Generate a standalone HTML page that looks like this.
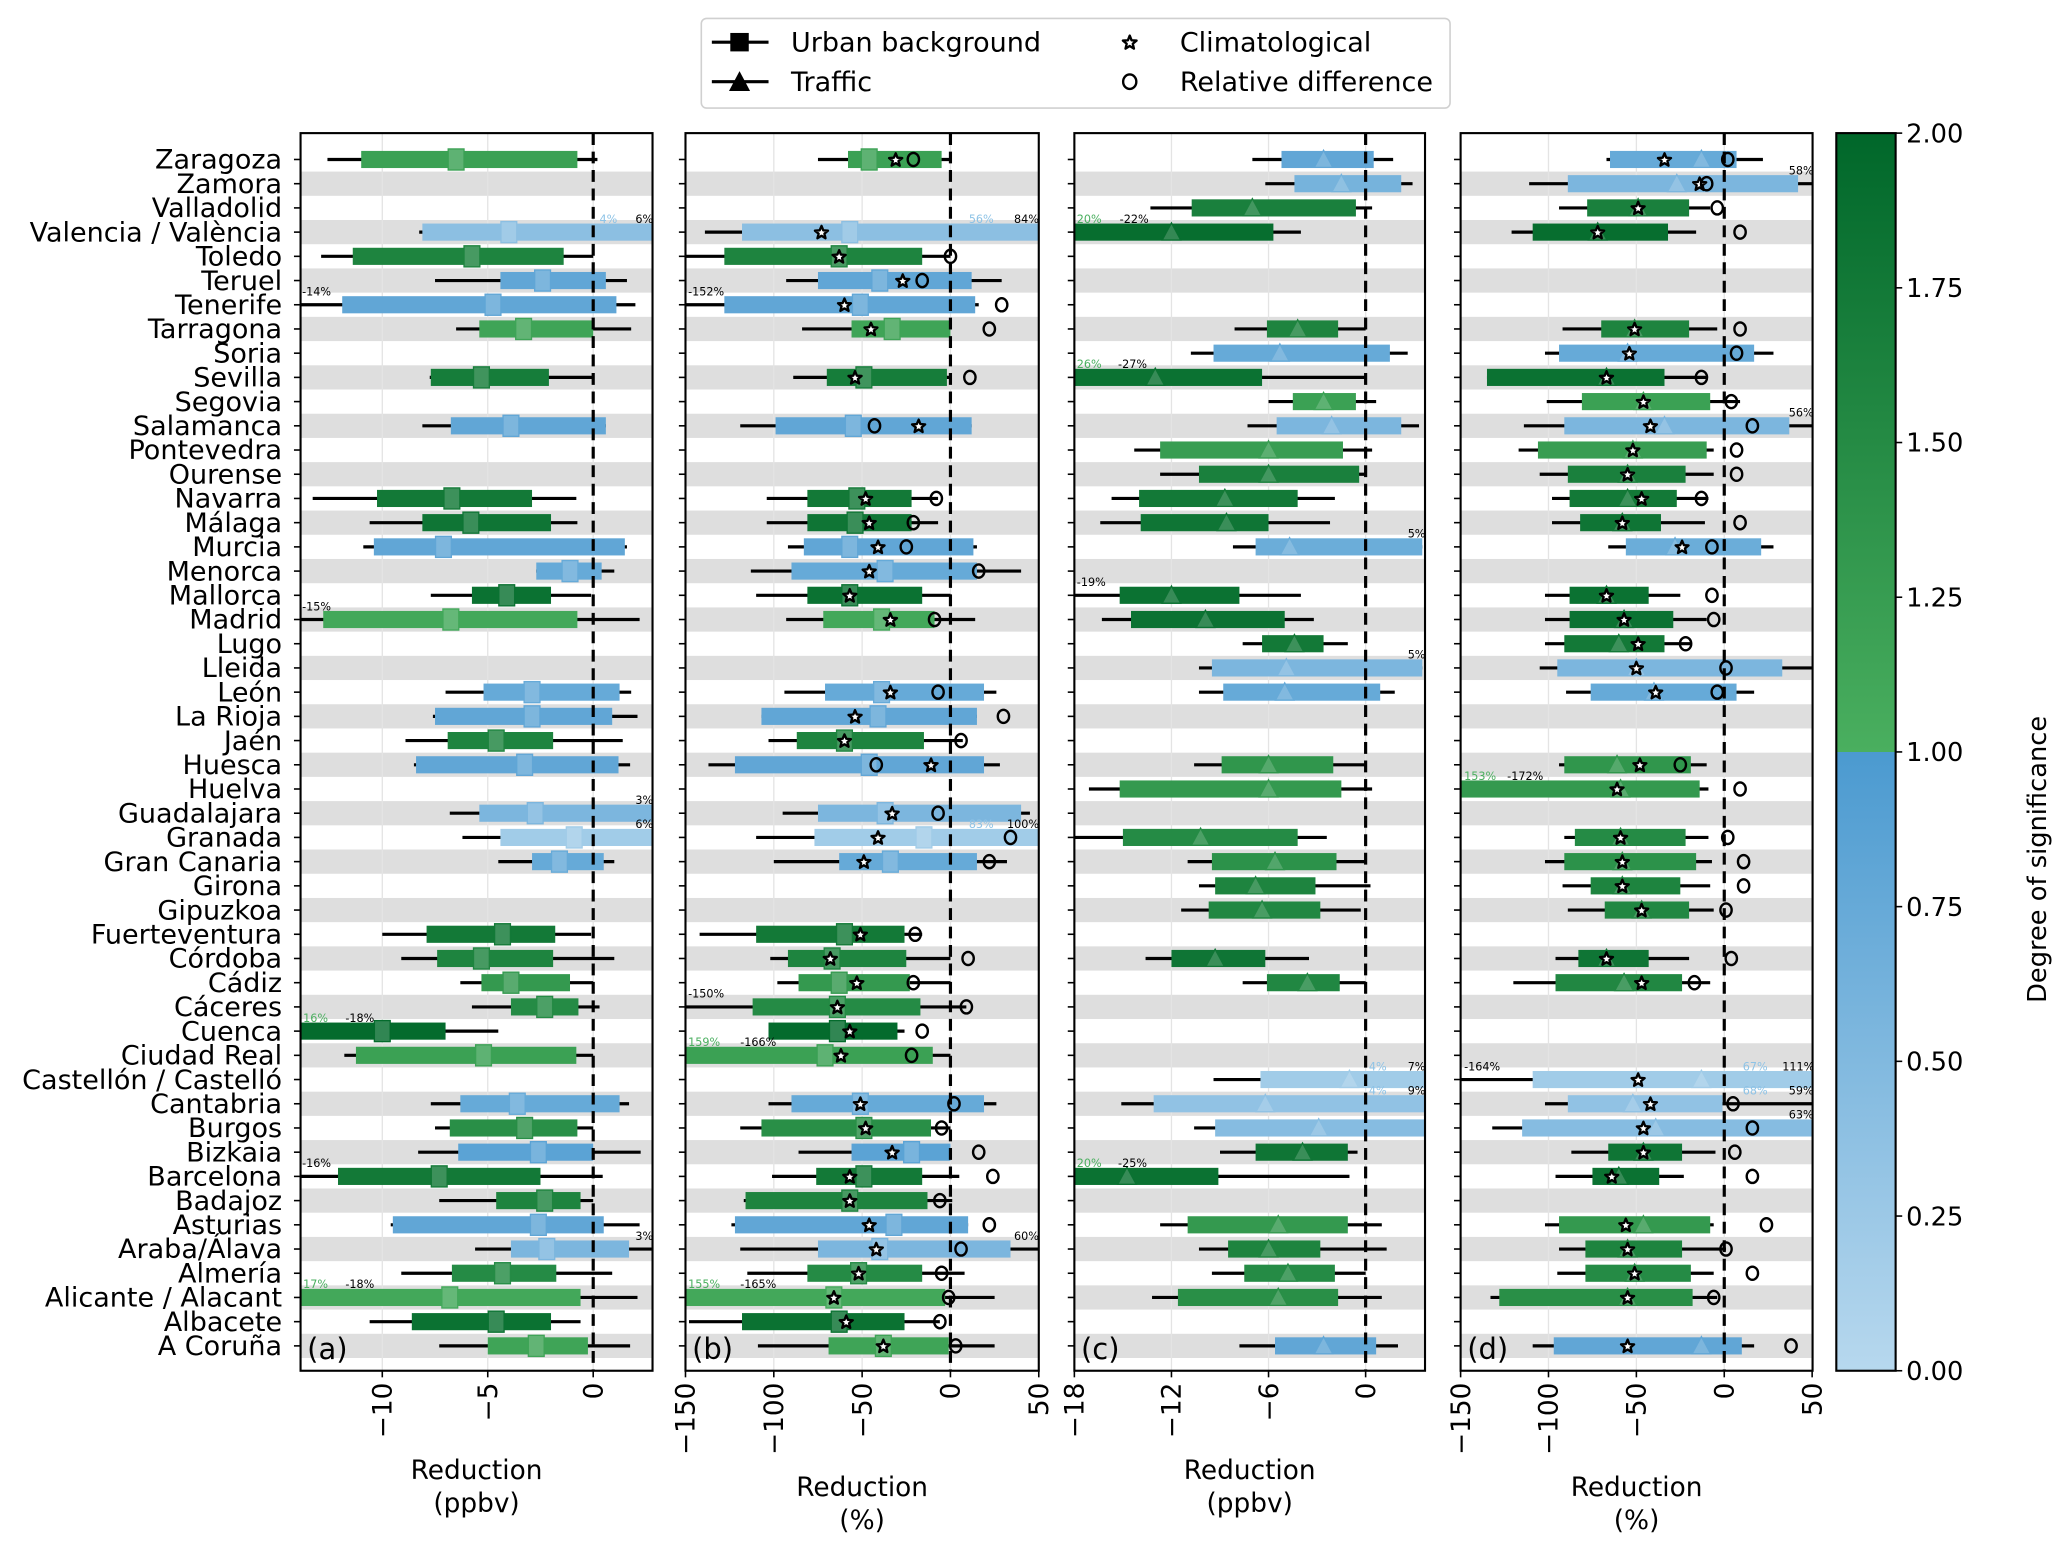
<!DOCTYPE html>
<html><head><meta charset="utf-8"><style>
html,body{margin:0;padding:0;background:#fff}
svg{display:block}
text{font-family:"DejaVu Sans","Liberation Sans",sans-serif}
</style></head><body>
<svg id="chart" width="2067" height="1550" viewBox="0 0 1568 1176" preserveAspectRatio="none" xmlns="http://www.w3.org/2000/svg"></svg>
<script>
const cities=["Zaragoza","Zamora","Valladolid","Valencia / València","Toledo","Teruel","Tenerife","Tarragona","Soria","Sevilla","Segovia","Salamanca","Pontevedra","Ourense","Navarra","Málaga","Murcia","Menorca","Mallorca","Madrid","Lugo","Lleida","León","La Rioja","Jaén","Huesca","Huelva","Guadalajara","Granada","Gran Canaria","Girona","Gipuzkoa","Fuerteventura","Córdoba","Cádiz","Cáceres","Cuenca","Ciudad Real","Castellón / Castelló","Cantabria","Burgos","Bizkaia","Barcelona","Badajoz","Asturias","Araba/Álava","Almería","Alicante / Alacant","Albacete","A Coruña"];
// [row, whiskerLo, q1, median, q3, whiskerHi, significance, climatological, relDiff]
const dataA=[[0,-12.6,-11,-6.5,-0.75,0.2,1.2],[3,-8.25,-8.1,-4,5,5,0.4],[4,-12.9,-11.4,-5.75,-1.4,0,1.6],[5,-7.5,-4.4,-2.4,0.6,1.6,0.8],[6,-20,-11.9,-4.75,1.1,2,0.8],[7,-6.5,-5.4,-3.3,0,1.8,1.15],[9,-7.75,-7.7,-5.3,-2.1,0,1.7],[11,-8.1,-6.75,-3.9,0.6,0.6,0.8],[14,-13.3,-10.25,-6.7,-2.9,-0.8,1.75],[15,-10.6,-8.1,-5.8,-2,-0.75,1.8],[16,-10.9,-10.4,-7.1,1.5,1.6,0.8],[17,-2.7,-2.7,-1.1,0.4,1.0,0.75],[18,-7.7,-5.75,-4.1,-2,-0.1,1.85],[19,-20,-12.8,-6.75,-0.75,2.2,1.1],[22,-7,-5.2,-2.9,1.25,1.8,0.75],[23,-7.6,-7.5,-2.9,0.9,2.1,0.8],[24,-8.9,-6.9,-4.6,-1.9,1.4,1.6],[25,-8.5,-8.4,-3.25,1.2,1.75,0.8],[27,-6.8,-5.4,-2.75,5,5,0.55],[28,-6.2,-4.4,-0.9,5,5,0.2],[29,-4.5,-2.9,-1.6,0.5,1,0.75],[32,-10,-7.9,-4.3,-1.8,-0.1,1.75],[33,-9.1,-7.4,-5.3,-1.9,1,1.6],[34,-6.3,-5.3,-3.9,-1.1,0,1.3],[35,-5.75,-3.9,-2.3,-0.7,0.3,1.5],[36,-20,-20,-10,-7,-4.5,1.95],[37,-11.8,-11.25,-5.2,-0.8,0,1.2],[39,-7.7,-6.3,-3.6,1.25,1.7,0.75],[40,-7.5,-6.8,-3.25,-0.75,0,1.45],[41,-8.3,-6.4,-2.6,0,2.25,0.85],[42,-20,-12.1,-7.3,-2.5,0.45,1.75],[43,-7.3,-4.6,-2.3,-0.6,0,1.6],[44,-9.6,-9.5,-2.6,0.5,2.2,0.8],[45,-5.6,-3.9,-2.2,1.7,5,0.55],[46,-9.1,-6.7,-4.3,-1.75,0.9,1.5],[47,-20,-20,-6.8,-0.6,2.1,1.1],[48,-10.6,-8.6,-4.6,-2,-0.6,1.85],[49,-7.3,-5,-2.7,-0.25,1.75,1.15]];
const dataB=[[0,-75,-58,-46,-5,0,1.2,-31,-21],[3,-139,-118,-57,90,90,0.4,-73,null],[4,-150,-128,-63,-16,0,1.6,-63,0],[5,-93,-75,-40,12,29,0.8,-27,-16],[6,-200,-128,-51,14,16,0.8,-60,29],[7,-84,-56,-33,0,0,1.15,-45,22],[9,-89,-70,-49,-2,0,1.7,-54,11],[11,-119,-99,-55,12,12,0.8,-18,-43],[14,-104,-81,-53,-22,-7,1.75,-48,-8],[15,-104,-81,-54,-22,-7,1.8,-46,-21],[16,-92,-83,-57,13,15,0.8,-41,-25],[17,-113,-90,-37,15,40,0.75,-46,16],[18,-110,-81,-57,-16,0,1.85,-57,null],[19,-93,-72,-39,-9,14,1.1,-34,-9],[22,-94,-71,-39,19,26,0.75,-34,-7],[23,-107,-107,-41,15,15,0.8,-54,30],[24,-103,-87,-60,-15,7,1.6,-60,6],[25,-137,-122,-46,19,28,0.8,-11,-42],[27,-95,-75,-37,40,45,0.55,-33,-7],[28,-110,-77,-15,90,90,0.2,-41,34],[29,-100,-63,-34,15,32,0.75,-49,22],[32,-142,-110,-60,-26,-16,1.75,-51,-20],[33,-102,-92,-67,-25,0,1.6,-68,10],[34,-98,-86,-63,-23,0,1.3,-53,-21],[35,-150,-112,-64,-17,9,1.5,-64,9],[36,-103,-103,-64,-30,-26,1.95,-57,-16],[37,-200,-200,-71,-10,0,1.2,-62,-22],[39,-103,-90,-51,19,26,0.75,-51,2],[40,-119,-107,-49,-11,0,1.45,-48,-5],[41,-86,-56,-22,0,0,0.85,-33,16],[42,-101,-76,-49,-16,5,1.75,-57,24],[43,-117,-116,-57,-13,1,1.6,-57,-6],[44,-124,-122,-32,10,10,0.8,-46,22],[45,-119,-75,-40,34,90,0.55,-42,6],[46,-115,-81,-52,-16,8,1.5,-52,-5],[47,-200,-200,-66,-3,25,1.1,-66,-1],[48,-148,-118,-63,-26,-6,1.85,-59,-6],[49,-109,-69,-38,-1,25,1.15,-38,3]];
const dataC=[[0,-7,-5.2,-2.6,0.5,1.7,0.8],[1,-6.2,-4.4,-1.5,2.2,2.9,0.6],[2,-13.3,-10.75,-7,-0.6,0.4,1.65],[3,-25,-25,-12,-5.7,-4,1.9],[7,-8.1,-6.1,-4.2,-1.7,0,1.6],[8,-10.8,-9.4,-5.3,1.5,2.6,0.75],[9,-25,-25,-13,-6.4,0,1.85],[10,-6,-4.5,-2.6,-0.6,0.65,1.2],[11,-7.3,-5.5,-2.1,2.2,3.3,0.55],[12,-14.3,-12.7,-6,-1.4,0.4,1.25],[13,-12.7,-10.3,-6,-0.4,0,1.65],[14,-15.7,-14,-8.7,-4.2,-1.9,1.75],[15,-16.4,-13.9,-8.6,-6,-2.2,1.8],[16,-8.2,-6.8,-4.7,3.5,3.5,0.7],[18,-25,-15.2,-12,-7.8,-4,1.85],[19,-16.3,-14.5,-9.9,-5,-3.2,1.85],[20,-7.6,-6.4,-4.4,-2.6,-1.1,1.75],[21,-10.3,-9.5,-4.9,3.5,3.5,0.55],[22,-10.3,-8.8,-5,0.9,1.8,0.75],[25,-10.6,-8.9,-6,-2,0,1.35],[26,-17.1,-15.2,-6,-1.5,0.4,1.3],[28,-25,-15,-10.2,-4.2,-2.4,1.5],[29,-11,-9.5,-5.6,-1.8,0,1.4],[30,-10.3,-9.3,-6.8,-3.1,0.3,1.6],[31,-11.4,-9.7,-6.4,-2.8,-0.3,1.55],[33,-13.6,-12,-9.3,-6.2,-3.5,1.8],[34,-7.6,-6.1,-3.6,-1.6,0,1.55],[38,-9.4,-6.5,-1,9,9,0.2],[39,-15.1,-13.1,-6.2,9,9,0.35],[40,-10.6,-9.3,-2.9,9,9,0.45],[41,-9,-6.8,-3.9,-1.1,-0.5,1.8],[42,-25,-25,-14.75,-9.1,-1,1.85],[44,-12.7,-11,-5.4,-1.1,1,1.3],[45,-10.3,-8.5,-6,-2.8,1.3,1.6],[46,-9.5,-7.5,-4.8,-1.9,0,1.5],[47,-13.2,-11.6,-5.4,-1.7,1,1.45],[49,-7.8,-5.6,-2.6,0.65,2,0.8]];
const dataD=[[0,-67,-65,-13,7,22,0.75,-34,2],[1,-111,-89,-27,42,90,0.55,-14,-10],[2,-94,-78,-49,-20,-8,1.65,-49,-4],[3,-121,-109,-72,-32,-16,1.9,-72,9],[7,-92,-70,-51,-20,-4,1.6,-51,9],[8,-102,-94,-55,17,28,0.75,-54,7],[9,-135,-135,-67,-34,-10,1.85,-67,-13],[10,-101,-81,-46,-8,9,1.2,-46,4],[11,-114,-91,-34,37,90,0.55,-42,16],[12,-117,-106,-52,-10,-6,1.25,-52,7],[13,-105,-89,-55,-22,-6,1.65,-55,7],[14,-98,-88,-55,-27,-9,1.75,-47,-13],[15,-98,-82,-58,-36,-11,1.8,-58,9],[16,-66,-56,-28,21,28,0.7,-24,-7],[18,-102,-88,-67,-43,-25,1.85,-67,-7],[19,-102,-88,-57,-29,-10,1.85,-57,-6],[20,-102,-91,-60,-34,-19,1.75,-49,-22],[21,-105,-95,-50,33,90,0.55,-50,1],[22,-90,-76,-40,7,17,0.75,-39,-4],[25,-94,-91,-61,-19,-10,1.35,-48,-25],[26,-200,-200,-59,-14,-9,1.3,-61,9],[28,-91,-85,-59,-22,-9,1.5,-59,2],[29,-102,-91,-58,-16,-7,1.4,-58,11],[30,-92,-76,-58,-25,-8,1.6,-58,11],[31,-89,-68,-47,-20,-6,1.55,-47,1],[33,-96,-83,-67,-43,-20,1.8,-67,4],[34,-120,-96,-57,-24,-8,1.55,-47,-17],[38,-200,-109,-13,90,90,0.2,-49,null],[39,-102,-89,-52,-1,90,0.35,-42,5],[40,-132,-115,-39,90,90,0.45,-46,16],[41,-87,-66,-46,-24,-5,1.8,-46,6],[42,-96,-75,-60,-37,-23,1.85,-64,16],[44,-102,-94,-46,-8,-6,1.3,-56,24],[45,-94,-79,-55,-24,1,1.6,-55,1],[46,-95,-79,-51,-19,-6,1.5,-51,16],[47,-133,-128,-55,-18,-4,1.45,-55,-6],[49,-109,-97,-13,10,17,0.8,-55,38]];
// percentage annotations [row, value, text, faint]
const labelsA=[[3,0.3,"4%",1],[3,2.0,"6%",0],[6,-13.8,"-14%",0],[19,-13.8,"-15%",0],[27,2.0,"3%",0],[28,2.0,"6%",0],[36,-13.75,"16%",2],[36,-11.75,"-18%",0],[42,-13.8,"-16%",0],[45,2.0,"3%",0],[47,-13.75,"17%",2],[47,-11.75,"-18%",0]];
const labelsB=[[3,10.4,"56%",1],[3,36,"84%",0],[6,-148.5,"-152%",0],[28,10.4,"83%",1],[28,32,"100%",0],[35,-148.5,"-150%",0],[37,-148.5,"159%",2],[37,-119,"-166%",0],[45,36,"60%",0],[47,-148.5,"155%",2],[47,-119,"-165%",0]];
const labelsC=[[3,-17.85,"20%",2],[3,-15.2,"-22%",0],[9,-17.85,"26%",2],[9,-15.3,"-27%",0],[16,2.6,"5%",0],[18,-17.85,"-19%",0],[21,2.6,"5%",0],[38,2.6,"7%",0],[38,0.2,"4%",1],[39,2.6,"9%",0],[39,0.2,"4%",1],[42,-17.85,"20%",2],[42,-15.3,"-25%",0]];
const labelsD=[[1,36.7,"58%",0],[11,36.7,"56%",0],[26,-148,"153%",2],[26,-123.5,"-172%",0],[38,-148,"-164%",0],[38,10.5,"67%",1],[38,33,"111%",0],[39,10.5,"68%",1],[39,36.7,"59%",0],[40,36.7,"63%",0]];
const ticksA=[-10,-5,0], ticksB=[-150,-100,-50,0,50], ticksC=[-18,-12,-6,0], ticksD=[-150,-100,-50,0,50];
const cbTicks=[0,0.25,0.5,0.75,1,1.25,1.5,1.75,2];

const NS="http://www.w3.org/2000/svg";
const svg=document.getElementById('chart');
function mk(tag,attrs,parent,txt){const e=document.createElementNS(NS,tag);for(const k in attrs)e.setAttribute(k,attrs[k]);if(txt!==undefined)e.textContent=txt;(parent||svg).appendChild(e);return e;}
const TOP=101,BOT=1040,ROW0=121,STEP=18.37;
function yRow(i){return ROW0+i*STEP;}
function lerp(a,b,t){return a.map((v,i)=>Math.round(v+(b[i]-v)*t));}
function color(s){let c;if(s>=1){c=lerp([74,175,95],[0,103,42],Math.min(1,s-1));}else{c=lerp([183,216,238],[75,154,208],s);}return 'rgb('+c.join(',')+')';}
function light(s){const m=color(s).match(/\d+/g).map(Number);return 'rgb('+m.map(v=>Math.round(v+(255-v)*0.18)).join(',')+')';}
function starPts(cx,cy,R,r){let p=[];for(let k=0;k<10;k++){const a=-Math.PI/2+k*Math.PI/5;const rr=k%2?r:R;p.push((cx+rr*Math.cos(a)).toFixed(1)+','+(cy+rr*Math.sin(a)).toFixed(1));}return p.join(' ');}
const panels=[
 {id:'a',x0:228,x1:495,min:-13.875,max:2.8125,ticks:ticksA,data:dataA,labels:labelsA,marker:'square',unit:'(ppbv)',pct:false},
 {id:'b',x0:520,x1:788,min:-150,max:50,ticks:ticksB,data:dataB,labels:labelsB,marker:'square',unit:'(%)',pct:true},
 {id:'c',x0:815,x1:1081,min:-18,max:3.67,ticks:ticksC,data:dataC,labels:labelsC,marker:'triangle',unit:'(ppbv)',pct:false},
 {id:'d',x0:1108,x1:1375,min:-150,max:50.25,ticks:ticksD,data:dataD,labels:labelsD,marker:'triangle',unit:'(%)',pct:true}];
const defs=mk('defs',{});
panels.forEach(p=>{
 const cp=mk('clipPath',{id:'clip-'+p.id},defs);
 mk('rect',{x:p.x0,y:TOP,width:p.x1-p.x0,height:BOT-TOP},cp);
 const X=v=>p.x0+(v-p.min)/(p.max-p.min)*(p.x1-p.x0);
 const g=mk('g',{});
 
 
 const inner=mk('g',{'clip-path':'url(#clip-'+p.id+')'},g);
 for(let i=1;i<cities.length;i+=2){const r=mk('rect',{x:p.x0,y:yRow(i)-STEP/2,width:p.x1-p.x0,height:STEP,fill:'#dedede'},inner);
  
  }
 p.ticks.forEach(t=>{const l=mk('line',{x1:X(t),x2:X(t),y1:TOP,y2:BOT,stroke:'#e4e4e4','stroke-width':1},inner);
  
  });
 p.data.forEach(d=>{
  const [r,lo,q1,md,q3,hi,s,st,cd]=d; const y=yRow(r);
  const w=mk('line',{x1:X(lo),x2:X(hi),y1:y,y2:y,stroke:'#000','stroke-width':2.4},inner);
  
  
  const b=mk('rect',{x:X(q1),y:y-6.5,width:Math.max(0,X(q3)-X(q1)),height:13,fill:color(s)},inner);
  
  
  let m;
  if(p.marker==='square'){m=mk('rect',{x:X(md)-6,y:y-8,width:12,height:16,fill:light(s),stroke:color(s),'stroke-width':1},inner);}
  else{const xm=X(md);m=mk('polygon',{points:(xm-7)+','+(y+6)+' '+(xm+7)+','+(y+6)+' '+xm+','+(y-7),fill:light(s),stroke:color(s),'stroke-width':1},inner);}
  
  
  if(p.pct){
   if(st!==null&&st!==undefined){const t=mk('polygon',{points:starPts(X(st),y+0.5,5.2,2.3),fill:'#fff',stroke:'#000','stroke-width':1.8,'stroke-linejoin':'round'},inner);
    
    }
   if(cd!==null&&cd!==undefined){const c=mk('ellipse',{cx:X(cd),cy:y,rx:4.3,ry:5,fill:'none',stroke:'#000','stroke-width':1.8},inner);
    
    }
  }
 });
 const z=mk('line',{x1:X(0),x2:X(0),y1:TOP,y2:BOT,stroke:'#000','stroke-width':2.4,'stroke-dasharray':'9,5'},inner);
 
 
 p.labels.forEach(L=>{const col=L[3]===1?'#8ec3e6':(L[3]===2?'#4aaf5f':'#000');
  const t=mk('text',{x:X(L[1]),y:yRow(L[0])-7,'font-size':8.5,fill:col},inner,L[2]);
  
  });
 const f=mk('rect',{x:p.x0,y:TOP,width:p.x1-p.x0,height:BOT-TOP,fill:'none',stroke:'#000','stroke-width':1.6},g);
 
 
 cities.forEach((c,i)=>{mk('line',{x1:p.x0-5,x2:p.x0,y1:yRow(i),y2:yRow(i),stroke:'#000','stroke-width':1.2},g);});
 p.ticks.forEach(t=>{mk('line',{x1:X(t),x2:X(t),y1:BOT,y2:BOT+5,stroke:'#000','stroke-width':1.2},g);
  const lb=String(t).replace('-','−');
  const tx=mk('text',{x:0,y:0,'font-size':20,'text-anchor':'end',transform:'translate('+(X(t)+7)+','+(BOT+9)+') rotate(-90)'},g,lb);
  
  });
 const cx=(p.x0+p.x1)/2, ty=p.pct?1135:1122;
 const t1=mk('text',{x:cx,y:ty,'font-size':20,'text-anchor':'middle'},g,'Reduction');
 
 
 const t2=mk('text',{x:cx,y:ty+25,'font-size':20,'text-anchor':'middle'},g,p.unit);
 
 
 const pl=mk('text',{x:p.x0+5,y:1031,'font-size':22},g,'('+p.id+')');
 
 
});
cities.forEach((c,i)=>{const t=mk('text',{x:214,y:yRow(i)+7,'font-size':20.5,'text-anchor':'end'},svg,c);
 
 });
const grad=mk('linearGradient',{id:'cbg',x1:0,y1:1,x2:0,y2:0},defs);
[[0,'rgb(183,216,238)'],[0.4999,'rgb(75,154,208)'],[0.5,'rgb(74,175,95)'],[1,'rgb(0,103,42)']].forEach(s=>mk('stop',{offset:s[0],'stop-color':s[1]},grad));
const CBX=1393,CBW=45;
const cb=mk('rect',{x:CBX,y:TOP,width:CBW,height:BOT-TOP,fill:'url(#cbg)',stroke:'#000','stroke-width':1.6});


cbTicks.forEach(t=>{const y=BOT-(t/2)*(BOT-TOP);mk('line',{x1:CBX+CBW,x2:CBX+CBW+5,y1:y,y2:y,stroke:'#000','stroke-width':1.2});
 const tx=mk('text',{x:CBX+CBW+8,y:y+7,'font-size':19.5},svg,t.toFixed(2));
 
 });
const cbl=mk('text',{x:0,y:0,'font-size':19.5,'text-anchor':'middle',transform:'translate(1552,652) rotate(-90)'},svg,'Degree of significance');


const lg=mk('g',{});


mk('rect',{x:532,y:14,width:568,height:68,rx:4,fill:'#fff',stroke:'#d0d0d0','stroke-width':1.2},lg);
mk('line',{x1:540,x2:583,y1:32,y2:32,stroke:'#000','stroke-width':2.4},lg);
mk('rect',{x:554,y:25,width:14,height:14,fill:'#000'},lg);
mk('line',{x1:540,x2:583,y1:62,y2:62,stroke:'#000','stroke-width':2.4},lg);
mk('polygon',{points:'553,69 569,69 561,54',fill:'#000'},lg);
mk('polygon',{points:starPts(857,32.5,5.5,2.4),fill:'#fff',stroke:'#000','stroke-width':1.8,'stroke-linejoin':'round'},lg);
mk('ellipse',{cx:857,cy:62,rx:5,ry:5.5,fill:'none',stroke:'#000','stroke-width':1.8},lg);
[['Urban background',600,39],['Traffic',600,69],['Climatological',895,39],['Relative difference',895,69]].forEach(e=>{
 const t=mk('text',{x:e[1],y:e[2],'font-size':20.5},lg,e[0]);
 
 });
</script>
</body></html>
